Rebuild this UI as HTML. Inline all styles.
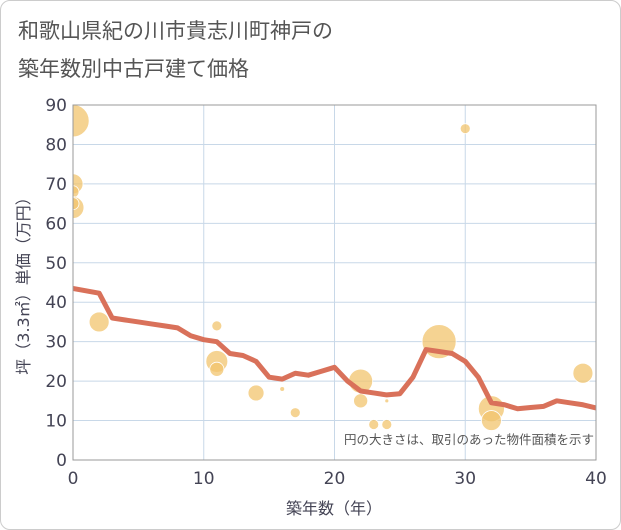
<!DOCTYPE html>
<html><head><meta charset="utf-8"><style>
body{margin:0;background:#fff;font-family:"DejaVu Sans","Noto Sans CJK JP",sans-serif}
#wrap{position:absolute;left:0;top:0;width:619px;height:528px;border:1px solid #ccc;border-radius:10px;background:#fff;overflow:hidden}
</style></head><body>
<div id="wrap">
<svg id="chart" width="621" height="530" style="position:absolute;left:-1px;top:-1px">
<defs><clipPath id="pc"><rect x="73" y="105" width="523" height="355"/></clipPath></defs>
<text x="18" y="38" font-size="21" fill="#555">和歌山県紀の川市貴志川町神戸の</text>
<text x="18" y="76" font-size="21" fill="#555">築年数別中古戸建て価格</text>
<text transform="translate(29,282) rotate(-90)" text-anchor="middle" font-size="16" fill="#445">坪（3.3㎡）単価（万円）</text>
<text x="334" y="514" text-anchor="middle" font-size="16" fill="#445">築年数（年）</text>
<g id="plot" clip-path="url(#pc)"></g>
</svg>
</div>
<script>
const lineYears=[0,2,3,4,5,6,7,8,9,10,11,12,13,14,15,16,17,18,19,20,21,22,23,24,25,26,27,28,29,30,31,32,33,34,35,36,37,38,39,40];
const linePrices=[43.5,42.3,36,35.5,35,34.5,34,33.5,31.5,30.5,30,27,26.5,25,21,20.5,22,21.5,22.5,23.5,20,17.5,17,16.5,16.8,21,28,27.5,27,25,21,14.5,14,13,13.3,13.6,15,14.5,14,13.2];
const bubbleYears=[0,0,0,0,0,2,11,11,11,14,16,17,22,22,23,24,24,28,30,32,32,39];
const bubblePrices=[86,70,68,64,65,35,34,25,23,17,18,12,20,15,9,9,15,30,84,13,10,22];
const bubbleAreas=[260,100,36,120,36,100,25,120,50,64,6,25,144,50,25,25,4,290,25,170,100,100];
const xTicks=[0,10,20,30,40];
const yTicks=[0,10,20,30,40,50,60,70,80,90];
const NS="http://www.w3.org/2000/svg";
const svg=document.getElementById('chart');
const plot=document.getElementById('plot');
const X0=73,X1=596,Y0=460,Y1=105;
const xs=v=>X0+(v-0)/(40-0)*(X1-X0);
const ys=v=>Y0-(v-0)/(90-0)*(Y0-Y1);
function mk(t,a,par){const e=document.createElementNS(NS,t);for(const k in a)e.setAttribute(k,a[k]);(par||svg).appendChild(e);return e;}
yTicks.forEach(v=>{
 const g=mk('line',{x1:X0,x2:X1,y1:ys(v),y2:ys(v),stroke:'#c8d8e8','stroke-width':1});
 
 
 const t=mk('text',{x:X0-6,y:ys(v)+6,'text-anchor':'end','font-size':17,fill:'#445'});t.textContent=v;
 
 
});
xTicks.forEach(v=>{
 const g=mk('line',{x1:xs(v),x2:xs(v),y1:Y1,y2:Y0,stroke:'#c8d8e8','stroke-width':1});
 
 
 const t=mk('text',{x:xs(v),y:Y0+24,'text-anchor':'middle','font-size':17,fill:'#445'});t.textContent=v;
 
 
});
svg.appendChild(plot);
bubbleYears.forEach((v,i)=>{
 const c=mk('circle',{cx:xs(v),cy:ys(bubblePrices[i]),r:Math.sqrt(bubbleAreas[i]),fill:'#f2c46e','fill-opacity':0.75,stroke:'#fff','stroke-width':0.8},plot);
 
 
});
const p=mk('polyline',{points:lineYears.map((v,i)=>xs(v)+','+ys(linePrices[i])).join(' '),fill:'none',stroke:'#d9715a','stroke-width':5,'stroke-linejoin':'round'},plot);


const fr=mk('rect',{x:X0,y:Y1,width:X1-X0,height:Y0-Y1,fill:'none',stroke:'#999','stroke-width':1});


const n=mk('text',{x:594,y:444,'text-anchor':'end','font-size':12.5,fill:'#555'});n.textContent='円の大きさは、取引のあった物件面積を示す';


</script>
</body></html>
